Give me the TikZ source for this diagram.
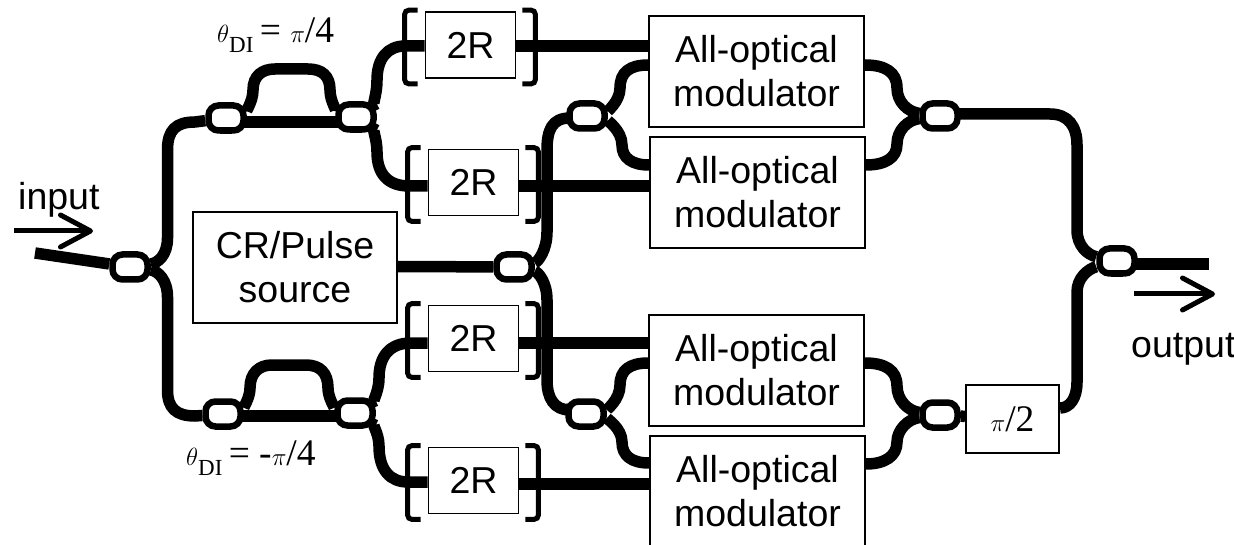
\documentclass[tikz,border=0pt]{standalone}
\usepackage{fontspec}
\setmainfont{Liberation Sans}
\newfontfamily\timesfont{Liberation Serif}
\usetikzlibrary{arrows.meta, backgrounds}

\begin{document}
\begin{tikzpicture}[
        x=1pt, y=-1pt,
        modulator/.style={rectangle, draw, line width=2pt, fill=white, align=center, minimum width=215pt, minimum height=111pt, inner sep=0pt, font=\fontsize{37.5}{44}\selectfont},
        regen/.style={rectangle, draw, line width=1.6pt, fill=white, minimum width=90pt, minimum height=66pt, inner sep=0pt, font=\fontsize{37.5}{44}\selectfont},
        coupler/.style={rectangle, draw, line width=6.5pt, fill=white, rounded corners=10pt, minimum width=35pt, minimum height=25pt, inner sep=0pt},
        guide/.style={line width=11.5pt},
        bracket/.style={line width=5pt, rounded corners=4pt},
        flow/.style={line width=5pt, -{Straight Barb[length=30pt, width=32pt, round]}},
        label/.style={inner sep=0pt, font=\fontsize{37.5}{44}\selectfont},
        phase/.style={inner sep=0pt, anchor=base west, font=\timesfont\fontsize{37.5}{44}\selectfont}
    ]
    \useasboundingbox (0,0) rectangle (1234,545);

    \node[regen] (regena) at (470.5,45) {2R};
    \node[regen] (regenb) at (473.5,182.5) {2R};
    \node[regen] (regenc) at (473.5,338.5) {2R};
    \node[regen] (regend) at (473.5,480.5) {2R};

    \node[modulator] (moda) at (756.5,71.5) {All-optical\\modulator};
    \node[modulator] (modb) at (757.5,192.5) {All-optical\\modulator};
    \node[modulator] (modc) at (756.5,370.5) {All-optical\\modulator};
    \node[modulator] (modd) at (757.5,491.5) {All-optical\\modulator};

    \node[rectangle, draw, line width=2pt, fill=white, align=center, minimum width=204pt, minimum height=111pt, font=\fontsize{37.5}{44}\selectfont] (source) at (295,267.5) {CR/Pulse\\source};
    \node[rectangle, draw, line width=2pt, fill=white, minimum width=93pt, minimum height=68pt, font=\timesfont\fontsize{37.5}{44}\selectfont] (shift) at (1012.5,419) {$\pi$/2};

    \node[coupler] (splitin) at (130,267) {};
    \node[coupler] (diupa) at (226,118) {};
    \node[coupler] (diupb) at (356,117) {};
    \node[coupler] (dilowa) at (223,414) {};
    \node[coupler] (dilowb) at (355,413) {};
    \node[coupler] (splitcr) at (514,267) {};
    \node[coupler] (splitup) at (587,116) {};
    \node[coupler] (splitlow) at (586,414) {};
    \node[coupler] (joinup) at (940,116) {};
    \node[coupler] (joinlow) at (940,415) {};
    \node[coupler] (joinout) at (1117,261) {};

    \coordinate (infree) at (35,253);
    \coordinate (outfree) at (1209,264);

    \begin{scope}[on background layer]
    % input side
    \draw[guide] (infree) -- (splitin);
    \draw[guide] (splitin) .. controls (158,263) and (167.5,255) .. (167.5,238) -- (167.5,150) .. controls (167.5,130) and (176,122) .. (195,122) -- (diupa);
    \draw[guide] (splitin) .. controls (158,271) and (167.5,280) .. (167.5,297) -- (167.5,390) .. controls (167.5,408) and (176,416) .. (195,416) -- (dilowa);

    % upper interferometer
    \draw[guide] (diupa) -- (226,122) -- (356,122) -- (diupb);
    \draw[guide] (diupa) .. controls (245,112) and (253,102) .. (253,90) .. controls (253,76) and (262,69) .. (275,69) -- (308,69) .. controls (322,69) and (330,76) .. (330,90) .. controls (330,102) and (338,112) .. (diupb);
    \draw[guide] (diupb) .. controls (370,108) and (377,98) .. (377,80) .. controls (377,58) and (388,46) .. (405,46) -- ([yshift=-1pt]regena.west);
    \draw[guide] (diupb) .. controls (370,126) and (377,136) .. (377,152) .. controls (377,174) and (388,186) .. (409,186) -- ([yshift=-3.5pt]regenb.west);

    % lower interferometer
    \draw[guide] (dilowa) -- (223,416) -- (355,416) -- (dilowb);
    \draw[guide] (dilowa) .. controls (243,408) and (250,398) .. (250,388) .. controls (250,373) and (259,365) .. (272,365) -- (306,365) .. controls (320,365) and (328,373) .. (328,388) .. controls (328,398) and (335,408) .. (dilowb);
    \draw[guide] (dilowb) .. controls (370,404) and (379,394) .. (379,378) .. controls (379,356) and (390,343) .. (411,343) -- ([yshift=-4.5pt]regenc.west);
    \draw[guide] (dilowb) .. controls (370,422) and (379,432) .. (379,446) .. controls (379,470) and (390,482) .. (408,482) -- ([yshift=-1.5pt]regend.west);

    % regenerators to modulators
    \draw[guide] (regena.east |- moda.west) ++(0,-25.5) -- ([yshift=25.5pt]moda.west);
    \draw[guide] ([yshift=-3.5pt]regenb.east) -- ([yshift=6.5pt]modb.west);
    \draw[guide] ([yshift=-4.5pt]regenc.east) -- ([yshift=27.5pt]modc.west);
    \draw[guide] ([yshift=-3.5pt]regend.east) -- ([yshift=7.5pt]modd.west);

    % pulse source
    \draw[guide] ([yshift=1pt]source.east) -- (splitcr);
    \draw[guide] (splitcr) .. controls (538,262) and (547,250) .. (547,232) -- (547,150) .. controls (547,130) and (552,118) .. (570,118) -- (splitup);
    \draw[guide] (splitcr) .. controls (538,272) and (547,282) .. (547,300) -- (547,380) .. controls (547,398) and (554,410) .. (570,410) -- (splitlow);
    \draw[guide] (splitup) .. controls (606,112) and (620,102) .. (620,88) .. controls (620,72) and (630,65) .. ([yshift=6.5pt]moda.west);
    \draw[guide] (splitup) .. controls (606,120) and (622,130) .. (622,145) .. controls (622,158) and (632,165) .. ([yshift=27.5pt]modb.west);
    \draw[guide] (splitlow) .. controls (606,410) and (620,400) .. (620,385) .. controls (620,370) and (630,363) .. ([yshift=7.5pt]modc.west);
    \draw[guide] (splitlow) .. controls (606,418) and (622,428) .. (622,442) .. controls (622,456) and (632,463) .. ([yshift=28.5pt]modd.west);

    % output side
    \draw[guide] ([yshift=6.5pt]moda.east) .. controls (885,65) and (897,72) .. (897,88) .. controls (897,102) and (908,112) .. (joinup);
    \draw[guide] ([yshift=27.5pt]modb.east) .. controls (885,165) and (897,158) .. (897,144) .. controls (897,130) and (908,120) .. (joinup);
    \draw[guide] ([yshift=7.5pt]modc.east) .. controls (885,363) and (897,370) .. (897,386) .. controls (897,400) and (908,411) .. (joinlow);
    \draw[guide] ([yshift=27.5pt]modd.east) .. controls (885,464) and (897,456) .. (897,442) .. controls (897,430) and (908,419) .. (joinlow);
    \draw[guide] (joinlow) -- (shift);
    \draw[guide] (joinup) -- (940,114) -- (1050,114) .. controls (1068,114) and (1077,126) .. (1077,145) -- (1077,230) .. controls (1077,246) and (1088,255) .. (joinout);
    \draw[guide] ([yshift=11pt]shift.east) .. controls (1070,408) and (1077,398) .. (1077,382) -- (1077,292) .. controls (1077,278) and (1088,269) .. (joinout);
    \draw[guide] (joinout) -- (1117,264) -- (outfree);
    \end{scope}

    % brackets round the 2R boxes
    \foreach \boxname in {regena, regenb, regenc, regend} {
        \draw[bracket] ([shift={(-7pt,1pt)}]\boxname.north west) -- ([shift={(-20pt,1pt)}]\boxname.north west) -- ([shift={(-20pt,-5pt)}]\boxname.south west) -- ([shift={(-7pt,-5pt)}]\boxname.south west);
        \draw[bracket] ([shift={(6pt,1pt)}]\boxname.north east) -- ([shift={(19pt,1pt)}]\boxname.north east) -- ([shift={(19pt,-5pt)}]\boxname.south east) -- ([shift={(6pt,-5pt)}]\boxname.south east);
    }

    \coordinate (intail) at (14,231);
    \coordinate (inhead) at (93,231);
    \coordinate (outtail) at (1134,294);
    \coordinate (outhead) at (1215,294);
    \draw[flow] (intail) -- (inhead);
    \draw[flow] (outtail) -- (outhead);

    \node[label, anchor=base west] (inlabel) at (18,210) {input};
    \node[label, anchor=base west] (outlabel) at (1131,357) {output};
    \node[phase] (phaseup) at (217,43) {$\theta$\raisebox{-10pt}{\fontsize{23}{23}\selectfont DI}\,= $\pi$/4};
    \node[phase] (phaselow) at (186,465) {$\theta$\raisebox{-10pt}{\fontsize{23}{23}\selectfont DI}\,= -$\pi$/4};
    \end{tikzpicture}
\end{document}
